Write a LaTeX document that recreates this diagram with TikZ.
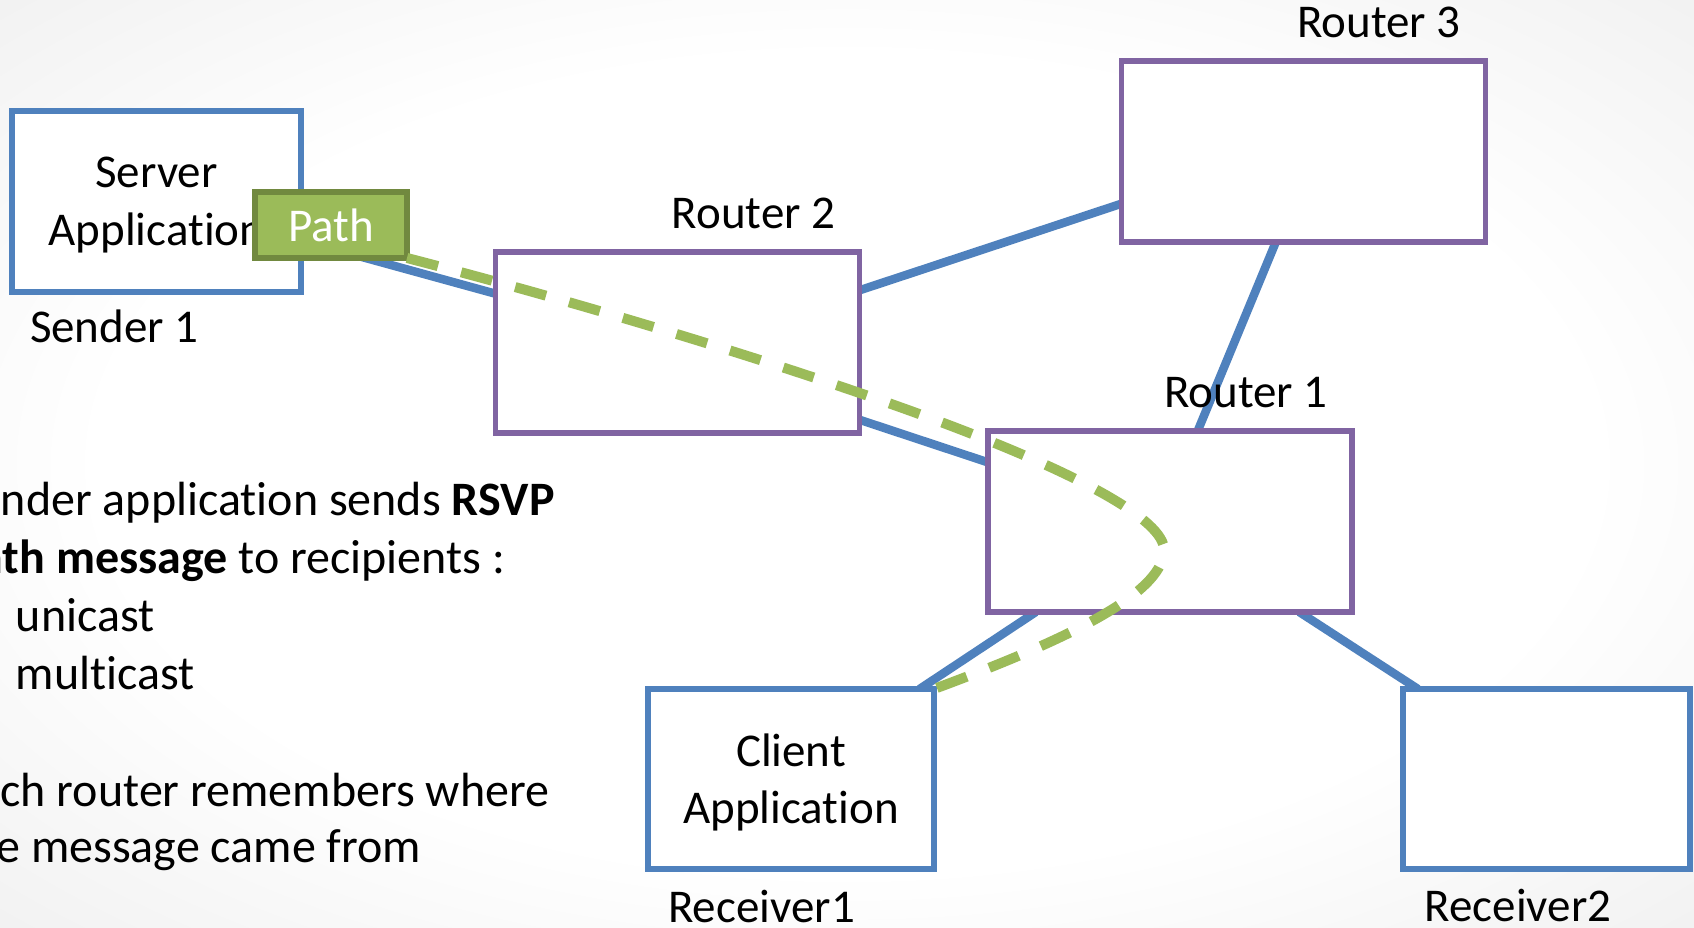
\documentclass[tikz,border=0pt]{standalone}
\usepackage{fontspec}
\setmainfont{Carlito}[Ligatures=NoCommon]
\usetikzlibrary{backgrounds}
\definecolor{obl}{HTML}{4F81BD}
\definecolor{opu}{HTML}{8064A2}
\definecolor{ogr}{HTML}{9BBB59}
\definecolor{ogrd}{HTML}{71893F}
\pgfdeclareradialshading{bgshade}{\pgfpoint{0bp}{0bp}}{color(0bp)=(white); color(22bp)=(white); color(40bp)=(black!7); color(50bp)=(black!9)}
\begin{document}
\begin{tikzpicture}[x=1pt,y=-1pt,
  every node/.style={font=\fontsize{47}{57}\selectfont, inner sep=0pt, outer sep=0pt},
  hostbox/.style={draw=obl, line width=5.5pt, fill=white, rectangle, minimum width=#1, minimum height=180pt},
  rtrbox/.style={draw=opu, line width=5.5pt, fill=white, rectangle, minimum width=364pt, minimum height=181pt},
  link/.style={draw=obl, line width=8.5pt},
  lbl/.style={anchor=base, text=black},
  bodytxt/.style={anchor=base west, font=\fontsize{48}{58}\selectfont},
  pathbox/.style={draw=ogrd, line width=5.5pt, fill=ogr, rectangle, minimum width=152pt, minimum height=66pt, text=white, text depth=0pt},
  pathflow/.style={draw=ogr, line width=10pt, dash pattern=on 32pt off 24pt}
]
\useasboundingbox (0,0) rectangle (1694,928);

% boxes
\node[hostbox=289pt, minimum height=181pt] (sender) at (156.5,201.5) {};
\node[rtrbox] (router2) at (677.5,342.5) {};
\node[rtrbox] (router3) at (1303.5,151.5) {};
\node[rtrbox] (router1) at (1170,521.5) {};
\node[hostbox=286pt] (client) at (791,779) {};
\node[hostbox=287pt] (recv2) at (1546.5,779) {};

% background and links behind the boxes
\begin{scope}[on background layer]
\shade[shading=bgshade] (0,0) rectangle (1694,928);
\draw[link] (sender.-15) -- (router2.165);
\draw[link] (router2.16) -- (router3.-164);
\draw[link] (router2.-23) -- (router1.162);
\draw[link] (router3.-107) -- (router1.73);
\draw[link] (router1.-146) -- (client.35);
\draw[link] (router1.-35) -- (recv2.145);
\end{scope}

% texts in and near the boxes
\node[lbl] (srvA) at (156.5,188) {Server};
\node[lbl] (srvB) at (156.5,245) {Application};
\node[lbl, anchor=base west] (sender1lbl) at (30,342) {Sender 1};
\node[lbl] (r2lbl) at (753.5,229) {Router 2};
\node[lbl] (r3lbl) at (1379,38) {Router 3};
\node[lbl] (r1lbl) at (1246,407) {Router 1};
\node[lbl] (cliA) at (791,766) {Client};
\node[lbl] (cliB) at (791,823) {Application};
\node[lbl] (rc1lbl) at (761.5,922) {Receiver1};
\node[lbl] (rc2lbl) at (1518,921) {Receiver2};

% Path message
\node[pathbox] (path) at (331,225) {Path};
\draw[pathflow] (path.south east) .. controls (600,308) and (800,370) .. (930,418)
  .. controls (1060,466) and (1160,515) .. (1164,548)
  .. controls (1166,590) and (1080,635) .. (client.north east);

% explanatory text, cut by the left edge
\begin{scope}
\clip (0,0) rectangle (1694,928);
\node[bodytxt] (t1) at (-45,515) {Sender application sends \textbf{RSVP}};
\node[bodytxt] (t2) at (-45,573) {\textbf{Path message} to recipients :};
\node[bodytxt] (t3) at (16,631) {unicast};
\node[bodytxt] (t4) at (16,689) {multicast};
\node[bodytxt] (t5) at (-45,806) {Each router remembers where};
\node[bodytxt] (t6) at (-45,862) {the message came from};
\end{scope}
\end{tikzpicture}
\end{document}
